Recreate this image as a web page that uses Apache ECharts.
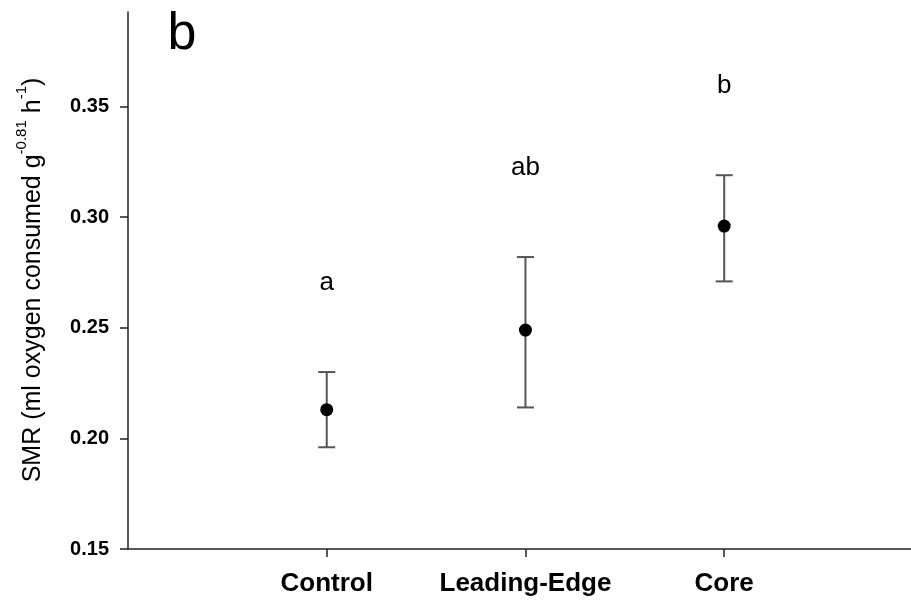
<!DOCTYPE html>
<html>
<head>
<meta charset="utf-8">
<script src="https://cdn.jsdelivr.net/npm/echarts@6/dist/echarts.min.js"></script>
<style>
  html, body { margin: 0; padding: 0; background: #fff; }
  #chart { width: 911px; height: 605px; }
</style>
</head>
<body>
<div id="chart"></div>
<script>
// Standard metabolic rate per group: mean with error bar limits
const categories = ['Control', 'Leading-Edge', 'Core'];
const means = [0.213, 0.249, 0.296];
const lower = [0.196, 0.214, 0.271];
const upper = [0.230, 0.282, 0.319];
const letters = ['a', 'ab', 'b'];
const yTicks = [0.15, 0.20, 0.25, 0.30, 0.35];
const catPositions = [1, 2, 3];

const FONT = '"Liberation Sans", Arial, sans-serif';
const AXIS_COLOR = '#222';
const BAR_COLOR = '#555';

const errData = categories.map((c, i) => [catPositions[i], lower[i], upper[i], i]);
const meanData = categories.map((c, i) => [catPositions[i], means[i]]);

const chart = echarts.init(document.getElementById('chart'), null, { renderer: 'canvas' });

chart.setOption({
  animation: false,
  backgroundColor: '#fff',
  grid: { left: 128, right: 0, top: 12, bottom: 56, containLabel: false },
  xAxis: {
    type: 'value',
    min: 0,
    max: 3.94,
    splitLine: { show: false },
    axisLine: { show: true, lineStyle: { color: AXIS_COLOR, width: 1.5 } },
    axisTick: { show: true, length: 8, lineStyle: { color: AXIS_COLOR, width: 1.5 }, customValues: catPositions },
    axisLabel: {
      customValues: catPositions,
      formatter: v => categories[catPositions.indexOf(Math.round(v))] || '',
      fontFamily: FONT, fontSize: 26, fontWeight: 'bold', color: '#000', margin: 22
    }
  },
  yAxis: {
    type: 'value',
    min: 0.15,
    max: 0.3928,
    splitLine: { show: false },
    axisLine: { show: true, lineStyle: { color: AXIS_COLOR, width: 1.5 } },
    axisTick: { show: true, length: 8, lineStyle: { color: AXIS_COLOR, width: 1.5 }, customValues: yTicks },
    axisLabel: {
      customValues: yTicks,
      formatter: v => v.toFixed(2),
      fontFamily: FONT, fontSize: 20, fontWeight: 'bold', color: '#000', margin: 19
    }
  },
  graphic: [
    {
      type: 'text',
      x: 167.5, y: 34.8,
      style: { text: 'b', font: '52px ' + FONT, fill: '#000', align: 'left', verticalAlign: 'middle' }
    },
    {
      type: 'text',
      x: 33.5, y: 280,
      rotation: Math.PI / 2,
      style: {
        text: '{m|SMR (ml oxygen consumed g}{s|-0.81}{m| h}{s|-1}{m|)}',
        align: 'center',
        verticalAlign: 'middle',
        rich: {
          m: { fontFamily: FONT, fontSize: 25, lineHeight: 38, fill: '#000' },
          s: { fontFamily: FONT, fontSize: 15, lineHeight: 15, verticalAlign: 'top', fill: '#000' }
        }
      }
    }
  ],
  series: [
    {
      type: 'custom',
      data: errData,
      z: 2,
      renderItem: (params, api) => {
        const x = api.value(0);
        const top = api.coord([x, api.value(2)]);
        const bot = api.coord([x, api.value(1)]);
        const hw = 8.5;
        const lineStyle = { stroke: BAR_COLOR, lineWidth: 2 };
        return {
          type: 'group',
          children: [
            { type: 'line', shape: { x1: top[0], y1: top[1], x2: bot[0], y2: bot[1] }, style: lineStyle },
            { type: 'line', shape: { x1: top[0] - hw, y1: top[1], x2: top[0] + hw, y2: top[1] }, style: lineStyle },
            { type: 'line', shape: { x1: bot[0] - hw, y1: bot[1], x2: bot[0] + hw, y2: bot[1] }, style: lineStyle },
            {
              type: 'text',
              x: top[0], y: top[1] - 89,
              style: { text: letters[api.value(3)], font: '26px ' + FONT, fill: '#000', align: 'center', verticalAlign: 'middle' }
            }
          ]
        };
      }
    },
    {
      type: 'scatter',
      data: meanData,
      z: 3,
      symbol: 'circle',
      symbolSize: 13,
      itemStyle: { color: '#000', opacity: 1 }
    }
  ]
});
</script>
</body>
</html>
